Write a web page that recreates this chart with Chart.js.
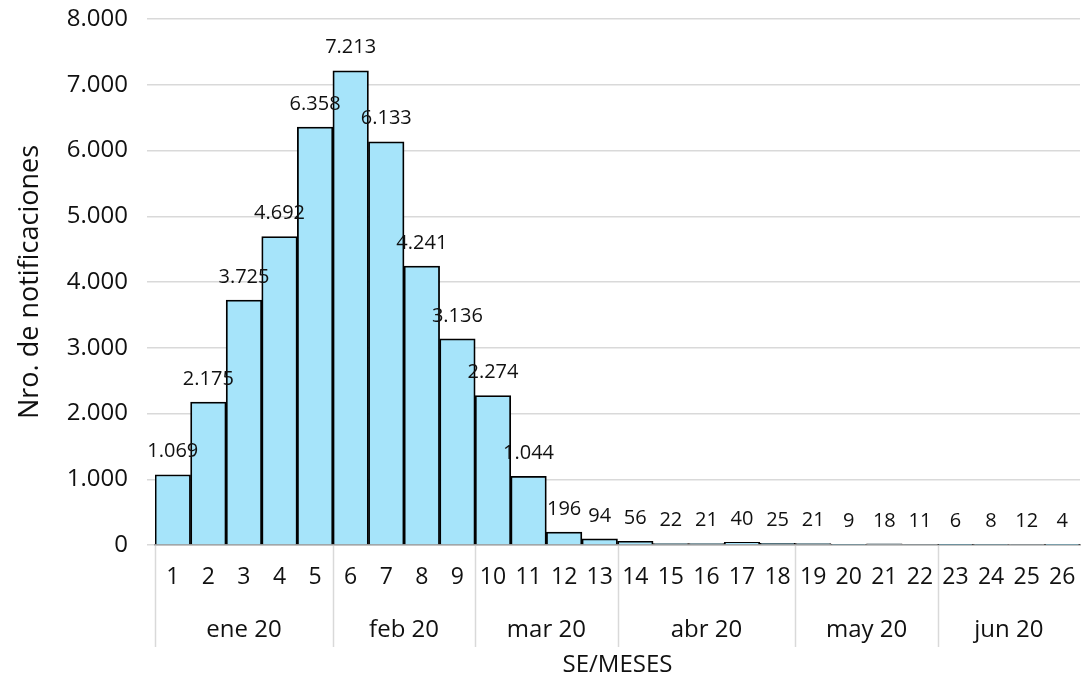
<!DOCTYPE html>
<html>
<head>
<title>Notificaciones por SE</title>
<script src="https://cdn.jsdelivr.net/npm/chart.js"></script>
<style>
  html, body { margin: 0; padding: 0; background: #fff; }
  #wrap { width: 1081px; height: 680px; }
</style>
</head>
<body>
<div id="wrap"><canvas id="chart"></canvas></div>

<script>
// datos
const semanas = ['1','2','3','4','5','6','7','8','9','10','11','12','13',
  '14','15','16','17','18','19','20','21','22','23','24','25','26'];
const notificaciones = [1069, 2175, 3725, 4692, 6358, 7213, 6133, 4241, 3136, 2274, 1044, 196, 94,
  56, 22, 21, 40, 25, 21, 9, 18, 11, 6, 8, 12, 4];
const meses = ['ene 20', 'feb 20', 'mar 20', 'abr 20', 'may 20', 'jun 20'];
const semanasPorMes = [5, 4, 4, 5, 4, 4];
const yMax = 8000;
const yPaso = 1000;

const FONT = "'Open Sans', 'DejaVu Sans', sans-serif";
const TEXT = '#111111';

function puntos(n) {
  return String(n).replace(/\B(?=(\d{3})+(?!\d))/g, '.');
}

// etiquetas encima de cada barra
const etiquetas = {
  id: 'etiquetas',
  afterDatasetsDraw(chart) {
    const ctx = chart.ctx;
    const meta = chart.getDatasetMeta(0);
    ctx.save();
    ctx.font = '20px ' + FONT;
    ctx.fillStyle = TEXT;
    ctx.textAlign = 'center';
    ctx.textBaseline = 'middle';
    meta.data.forEach((bar, i) => {
      ctx.fillText(puntos(notificaciones[i]), bar.x, bar.y - 23);
    });
    ctx.restore();
  }
};

// segundo nivel del eje x: meses y separadores
const ejeMeses = {
  id: 'ejeMeses',
  afterDraw(chart) {
    const ctx = chart.ctx;
    const x = chart.scales.x;
    const ancho = x.width / semanas.length;
    const top = x.top;
    ctx.save();
    ctx.strokeStyle = '#d9d9d9';
    ctx.lineWidth = 1.5;
    ctx.font = '24px ' + FONT;
    ctx.fillStyle = TEXT;
    ctx.textAlign = 'center';
    ctx.textBaseline = 'middle';
    let inicio = 0;
    meses.forEach((mes, m) => {
      const fin = inicio + semanasPorMes[m] - 1;
      const x0 = x.getPixelForValue(inicio) - ancho / 2;
      const x1 = x.getPixelForValue(fin) + ancho / 2;
      ctx.beginPath();
      ctx.moveTo(Math.round(x0) + 0.5, top + 1);
      ctx.lineTo(Math.round(x0) + 0.5, top + 102);
      ctx.stroke();
      ctx.fillText(mes, (x0 + x1) / 2, top + 85);
      inicio = fin + 1;
    });
    ctx.restore();
  }
};

new Chart(document.getElementById('chart'), {
  type: 'bar',
  data: {
    labels: semanas,
    datasets: [{
      data: notificaciones,
      backgroundColor: '#a6e4fa',
      borderColor: '#000000',
      borderWidth: 1.8,
      borderSkipped: 'start',
      barPercentage: 1,
      categoryPercentage: 1
    }]
  },
  options: {
    responsive: true,
    maintainAspectRatio: false,
    animation: false,
    layout: { padding: { top: 19, right: 1, left: 0, bottom: 0 } },
    plugins: {
      legend: { display: false },
      tooltip: { enabled: false }
    },
    scales: {
      x: {
        grid: { display: false, drawTicks: false },
        border: { display: true, color: '#9e9e9e', width: 1.5 },
        ticks: {
          color: TEXT,
          font: { family: FONT, size: 23 },
          padding: 19,
          maxRotation: 0,
          autoSkip: false
        },
        title: {
          display: true,
          text: 'SE/MESES',
          color: TEXT,
          font: { family: FONT, size: 24 },
          padding: { top: 0, bottom: 0 }
        },
        afterFit(scale) {
          scale.height = 135;
          scale.paddingLeft = 0;
          scale.paddingRight = 0;
        }
      },
      y: {
        min: 0,
        max: yMax,
        grid: { color: '#d9d9d9', lineWidth: 1.5, drawTicks: true, tickLength: 8 },
        border: { display: false },
        ticks: {
          stepSize: yPaso,
          color: TEXT,
          font: { family: FONT, size: 24 },
          padding: 19,
          callback: (v) => puntos(v)
        },
        title: {
          display: true,
          text: 'Nro. de notificaciones',
          color: TEXT,
          font: { family: FONT, size: 27 },
          padding: { top: 14, bottom: 0 }
        },
        afterFit(scale) {
          scale.width = 155;
          scale.paddingTop = 0;
          scale.paddingBottom = 0;
        }
      }
    }
  },
  plugins: [etiquetas, ejeMeses]
});
</script>
</body>
</html>
